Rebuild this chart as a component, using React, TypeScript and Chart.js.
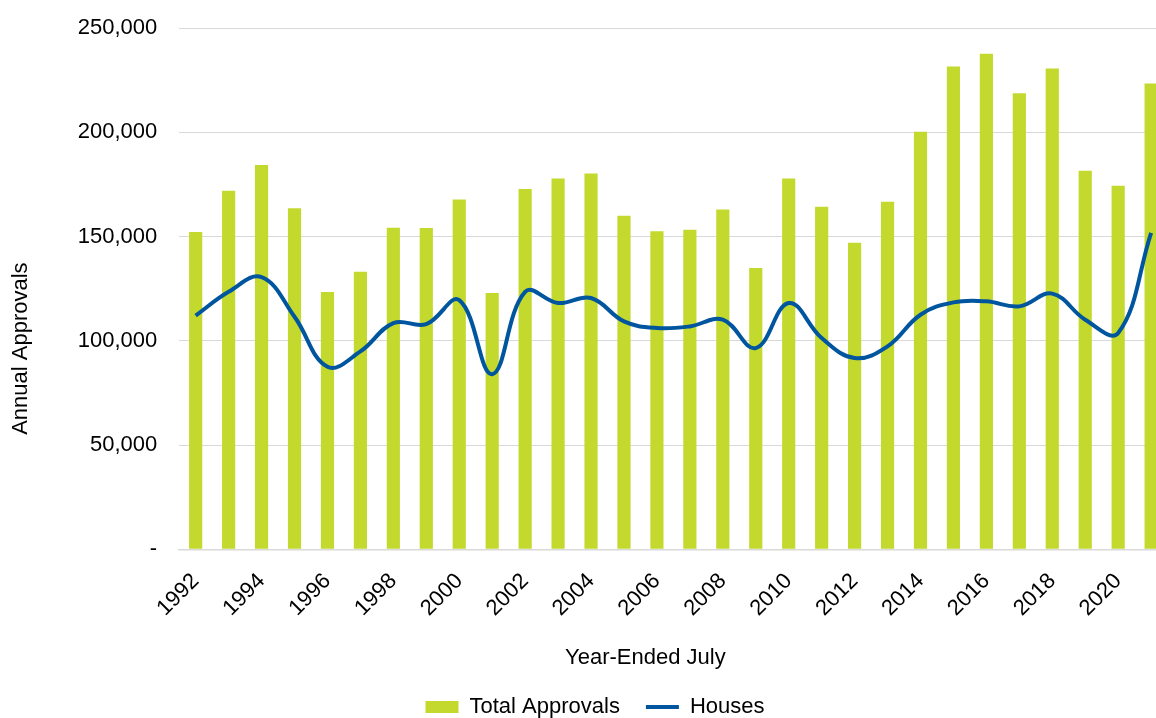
import React, { useEffect, useRef } from "react";
import { Chart, registerables } from "chart.js";

Chart.register(...registerables);

const years = [
  "1992", "1993", "1994", "1995", "1996", "1997", "1998", "1999", "2000", "2001",
  "2002", "2003", "2004", "2005", "2006", "2007", "2008", "2009", "2010", "2011",
  "2012", "2013", "2014", "2015", "2016", "2017", "2018", "2019", "2020", "2021",
];

const totalApprovals = [
  152200, 172000, 184300, 163500, 123400, 133100, 154200, 154100, 167700, 122900,
  172800, 177800, 180200, 160000, 152500, 153300, 162900, 134900, 177800, 164300,
  147000, 166700, 200300, 231500, 237600, 218700, 230600, 181600, 174300, 223400,
];

const houses = [
  112100, 123500, 130500, 111500, 87500, 94900, 108500, 108000, 119500, 84000,
  123500, 118100, 120500, 109300, 106100, 106900, 110100, 96500, 118100, 101300,
  91700, 97300, 112500, 118400, 118900, 116500, 122600, 110100, 103700, 151800,
];

const yTicks = [0, 50000, 100000, 150000, 200000, 250000];

const SERIES_NAMES = ["Total Approvals", "Houses"];
const X_TITLE = "Year-Ended July";
const Y_TITLE = "Annual Approvals";

const FONT_FAMILY = '"Liberation Sans", Arial, sans-serif';
const FONT_SIZE = 22;
const BAR_COLOR = "#C4D92E";
const LINE_COLOR = "#00559F";
const GRID_COLOR = "#D9D9D9";

const axisTitlesPlugin = {
  id: "axisTitlesCustom",
  afterDraw(chart: any) {
    const { ctx, chartArea } = chart;
    const w = chartArea.right - chartArea.left;
    const h = chartArea.bottom - chartArea.top;
    ctx.save();
    ctx.fillStyle = "#000";
    ctx.font = `${FONT_SIZE}px ${FONT_FAMILY}`;
    ctx.textAlign = "center";
    ctx.textBaseline = "middle";
    // x-axis title
    ctx.fillText(X_TITLE, chartArea.left + w * 0.4716, chartArea.bottom + 109);
    // y-axis title
    ctx.translate(21, chartArea.top + h * 0.615);
    ctx.rotate(-Math.PI / 2);
    ctx.fillText(Y_TITLE, 0, 0);
    ctx.restore();
  },
};

export default function App() {
  const canvasRef = useRef<HTMLCanvasElement | null>(null);

  useEffect(() => {
    if (!canvasRef.current) return;
    const chart = new Chart(canvasRef.current, {
      type: "bar",
      data: {
        labels: years,
        datasets: [
          {
            type: "bar",
            label: SERIES_NAMES[0],
            data: totalApprovals,
            backgroundColor: BAR_COLOR,
            borderWidth: 0,
            barPercentage: 0.4,
            categoryPercentage: 1,
            order: 2,
            pointStyle: "rect",
          } as any,
          {
            type: "line",
            label: SERIES_NAMES[1],
            data: houses,
            borderColor: LINE_COLOR,
            backgroundColor: LINE_COLOR,
            borderWidth: 4,
            pointRadius: 0,
            pointHoverRadius: 0,
            tension: 0.4,
            fill: false,
            order: 1,
            pointStyle: "line",
          } as any,
        ],
      },
      options: {
        responsive: false,
        animation: false,
        devicePixelRatio: 1,
        layout: { padding: { top: 28, left: 14, right: 13, bottom: 0 } },
        plugins: {
          tooltip: { enabled: false },
          title: { display: false },
          legend: {
            display: true,
            position: "bottom",
            labels: {
              usePointStyle: true,
              pointStyleWidth: 33,
              boxHeight: 12,
              padding: 26,
              color: "#000",
              font: { family: FONT_FAMILY, size: FONT_SIZE },
              sort: (a: any, b: any) => a.datasetIndex - b.datasetIndex,
            },
          },
        },
        scales: {
          x: {
            grid: { display: false, drawTicks: false },
            border: { display: true, color: GRID_COLOR, width: 1.5 },
            ticks: {
              autoSkip: false,
              minRotation: 45,
              maxRotation: 45,
              padding: 19,
              color: "#000",
              font: { family: FONT_FAMILY, size: FONT_SIZE },
              callback: (_v: any, i: number) => (i % 2 === 0 ? years[i] : ""),
            },
            afterFit: (s: any) => {
              s.height = 120.7;
            },
          },
          y: {
            min: 0,
            max: 250000,
            grid: {
              color: GRID_COLOR,
              lineWidth: 1,
              drawTicks: true,
              tickLength: 22,
              tickColor: "rgba(0,0,0,0)",
            },
            border: { display: false },
            afterBuildTicks: (s: any) => {
              s.ticks = yTicks.map((v) => ({ value: v }));
            },
            ticks: {
              padding: 0,
              color: "#000",
              font: { family: FONT_FAMILY, size: FONT_SIZE },
              callback: (v: any) => (Number(v) === 0 ? "-" : Number(v).toLocaleString("en-US")),
            },
            afterFit: (s: any) => {
              s.width = 165.2;
            },
          },
        },
      },
      plugins: [axisTitlesPlugin],
    });
    return () => chart.destroy();
  }, []);

  return (
    <div
      style={{
        position: "absolute",
        left: 0,
        top: 0,
        width: 1156,
        height: 718,
        overflow: "hidden",
        background: "#fff",
      }}
    >
      <canvas ref={canvasRef} width={1189} height={728} style={{ display: "block" }} />
    </div>
  );
}
